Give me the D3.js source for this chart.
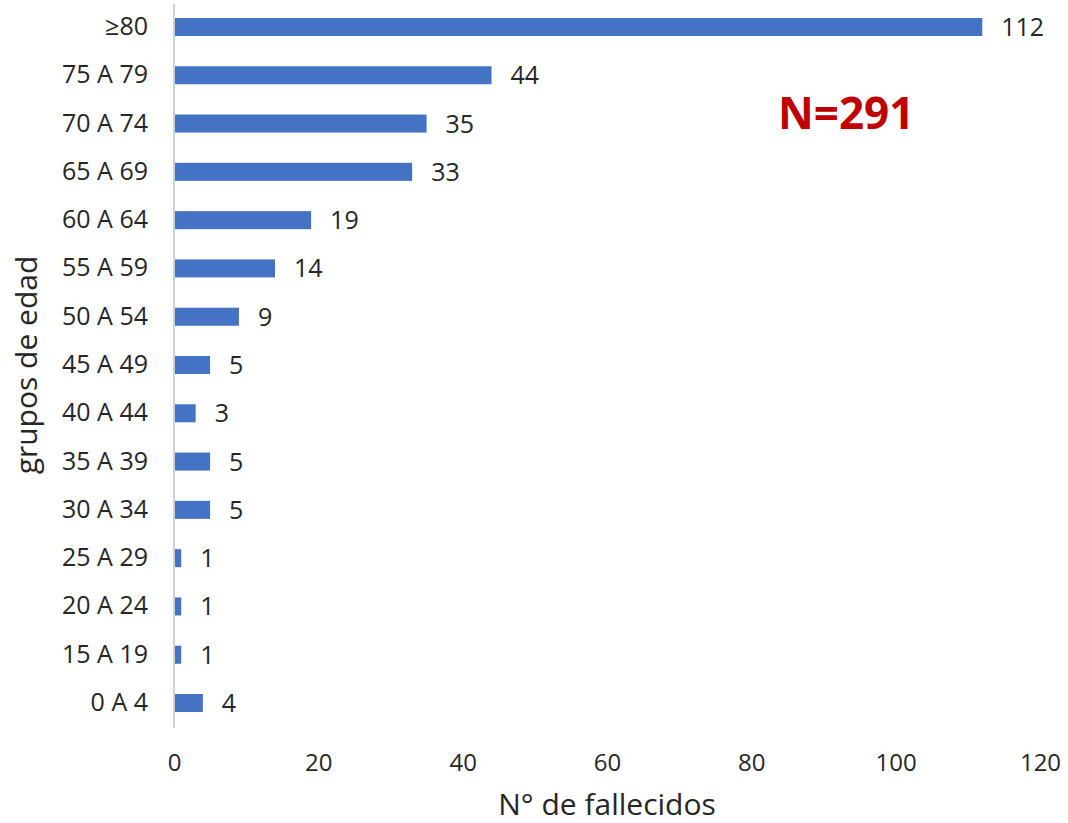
<!DOCTYPE html>
<html>
<head>
<meta charset="utf-8">
<script src="https://cdn.jsdelivr.net/npm/d3@7"></script>
<style>
  body { margin: 0; background: #fff; }
  text { font-family: "Open Sans", "Noto Sans", sans-serif; }
</style>
</head>
<body>
<div id="chart"></div>
<script>
var groups = ["≥80", "75 A 79", "70 A 74", "65 A 69", "60 A 64", "55 A 59", "50 A 54", "45 A 49",
              "40 A 44", "35 A 39", "30 A 34", "25 A 29", "20 A 24", "15 A 19", "0 A 4"];
var deaths = [112, 44, 35, 33, 19, 14, 9, 5, 3, 5, 5, 1, 1, 1, 4];
var xTicks = [0, 20, 40, 60, 80, 100, 120];

var w = 1068, h = 823;
var padL = 174, padR = 1040, padT = 3, padB = 727;

var svg = d3.select("#chart").append("svg")
    .attr("width", w)
    .attr("height", h);

var x = d3.scaleLinear().domain([0, 120]).range([padL, padR]);
var y = d3.scaleBand().domain(groups).range([padT, padB]).paddingInner(0.627).paddingOuter(0.31);

// bars
svg.selectAll("rect.bar")
    .data(deaths)
    .enter()
    .append("rect")
    .attr("class", "bar")
    .attr("x", x(0))
    .attr("y", function(d, i) { return y(groups[i]); })
    .attr("width", function(d) { return x(d) - x(0); })
    .attr("height", y.bandwidth())
    .attr("fill", "#4472C4");

// value labels
svg.selectAll("text.val")
    .data(deaths)
    .enter()
    .append("text")
    .attr("class", "val")
    .attr("x", function(d) { return x(d) + 19; })
    .attr("y", function(d, i) { return y(groups[i]) + y.bandwidth() / 2; })
    .attr("dy", "0.36em")
    .attr("font-size", "25px")
    .attr("fill", "#262626")
    .text(function(d) { return d; });

// y axis (category labels + line)
var yAxis = svg.append("g")
    .attr("transform", "translate(" + padL + ",0)")
    .call(d3.axisLeft(y).tickSize(0).tickPadding(26));
yAxis.select(".domain").attr("stroke", "#d0d0d0").attr("stroke-width", 2)
    .attr("d", "M0,4V728");
yAxis.selectAll("text")
    .attr("font-size", "25px")
    .attr("fill", "#262626")
    .style("font-family", "'Open Sans', 'Noto Sans', sans-serif");

// x axis ticks only
var xAxis = svg.append("g")
    .attr("transform", "translate(0,740)")
    .call(d3.axisBottom(x).tickValues(xTicks).tickSize(0).tickPadding(14));
xAxis.select(".domain").remove();
xAxis.selectAll("text")
    .attr("font-size", "24px")
    .attr("fill", "#262626")
    .style("font-family", "'Open Sans', 'Noto Sans', sans-serif");

// axis titles
svg.append("text")
    .attr("x", (padL + padR) / 2)
    .attr("y", 815)
    .attr("text-anchor", "middle")
    .attr("font-size", "30px")
    .attr("fill", "#262626")
    .text("N° de fallecidos");

svg.append("text")
    .attr("transform", "translate(37,365) rotate(-90)")
    .attr("text-anchor", "middle")
    .attr("font-size", "30px")
    .attr("fill", "#262626")
    .text("grupos de edad");

// total
svg.append("text")
    .attr("x", 778)
    .attr("y", 129)
    .attr("font-size", "44px")
    .attr("font-weight", "bold")
    .attr("fill", "#C00000")
    .text("N=291");
</script>
</body>
</html>
